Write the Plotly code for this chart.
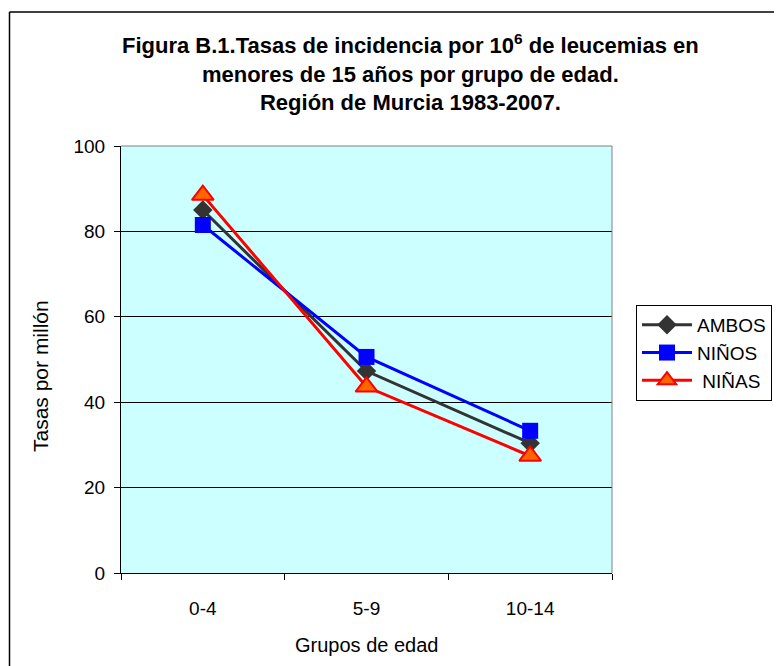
import plotly.graph_objects as go

categories = ["0-4", "5-9", "10-14"]
ambos = [85.0, 47.3, 30.4]
ninos = [81.5, 50.6, 33.3]
ninas = [88.5, 43.6, 27.4]
y_ticks = [0, 20, 40, 60, 80, 100]

FONT = "Arial, Liberation Sans, sans-serif"

fig = go.Figure()
fig.add_trace(go.Scatter(x=categories, y=ambos, name="AMBOS", mode="lines+markers",
                         line=dict(color="#333333", width=3),
                         marker=dict(symbol="diamond", size=15, color="#333333")))
fig.add_trace(go.Scatter(x=categories, y=ninos, name="NIÑOS", mode="lines+markers",
                         line=dict(color="#0000FF", width=3),
                         marker=dict(symbol="square", size=16, color="#0000FF")))
fig.add_trace(go.Scatter(x=categories, y=ninas, name=" NIÑAS", mode="lines+markers",
                         line=dict(color="#FF0000", width=3),
                         marker=dict(symbol="triangle-up", size=19, color="#FF6600",
                                     line=dict(color="#FF0000", width=2))))

# page is offset by the default 8px body margin
OFF = 8
W, H = 782 - OFF, 666 - OFF
L, T = 121 - OFF, 146 - OFF
R = W - (612 - OFF)
B = H - (573 - OFF)
pw, ph = W - L - R, H - T - B

def px(xp):
    return (xp - OFF - L) / pw

def py(yp):
    return (H - B - (yp - OFF)) / ph

fig.update_layout(
    width=W, height=H,
    margin=dict(l=L, r=R, t=T, b=B, pad=0, autoexpand=False),
    paper_bgcolor="white",
    plot_bgcolor="#CCFFFF",
    font=dict(family=FONT, size=19, color="black"),
    showlegend=True,
    legend=dict(x=px(636), y=py(305), xanchor="left", yanchor="top",
                bordercolor="black", borderwidth=1, bgcolor="white",
                font=dict(size=19, family=FONT), itemwidth=50,
                tracegroupgap=0),
    xaxis=dict(type="category", tickson="boundaries", ticks="outside", ticklen=6,
               tickcolor="black", showline=True, linecolor="black", linewidth=1,
               showgrid=False, tickfont=dict(size=19), range=[-0.5, 2.5],
               ticklabelstandoff=18),
    yaxis=dict(range=[0, 100], tickvals=y_ticks, ticks="outside", ticklen=6,
               tickcolor="black", showline=True, linecolor="black", linewidth=1,
               showgrid=True, gridcolor="black", gridwidth=1, zeroline=False,
               tickfont=dict(size=19), ticklabelstandoff=5),
    annotations=[
        dict(text="<b>Figura B.1.Tasas de incidencia por 10<sup>6</sup> de leucemias en<br>menores de 15 años por grupo de edad.<br>Región de Murcia 1983-2007.</b>",
             xref="paper", yref="paper", x=px(410), y=py(28), xanchor="center", yanchor="top",
             showarrow=False, font=dict(size=22, family=FONT, color="black")),
        dict(text="Grupos de edad", xref="paper", yref="paper", x=px(366), y=py(645),
             xanchor="center", yanchor="middle", showarrow=False,
             font=dict(size=20, family=FONT, color="black")),
        dict(text="Tasas por millón", xref="paper", yref="paper", x=px(40), y=py(376),
             xanchor="center", yanchor="middle", showarrow=False, textangle=-90,
             font=dict(size=21, family=FONT, color="black")),
    ],
    shapes=[
        dict(type="line", xref="paper", yref="paper", x0=0, x1=1, y0=1, y1=1,
             line=dict(color="#808080", width=1), layer="above"),
        dict(type="line", xref="paper", yref="paper", x0=1, x1=1, y0=0, y1=1,
             line=dict(color="#808080", width=1), layer="above"),
        dict(type="line", xref="paper", yref="paper", x0=px(9.5), x1=px(781),
             y0=py(12), y1=py(12), line=dict(color="black", width=1.5), layer="above"),
        dict(type="line", xref="paper", yref="paper", x0=px(9.5), x1=px(9.5),
             y0=py(12), y1=py(700), line=dict(color="black", width=1.5), layer="above"),
    ],
)

fig.write_html("out.html")
